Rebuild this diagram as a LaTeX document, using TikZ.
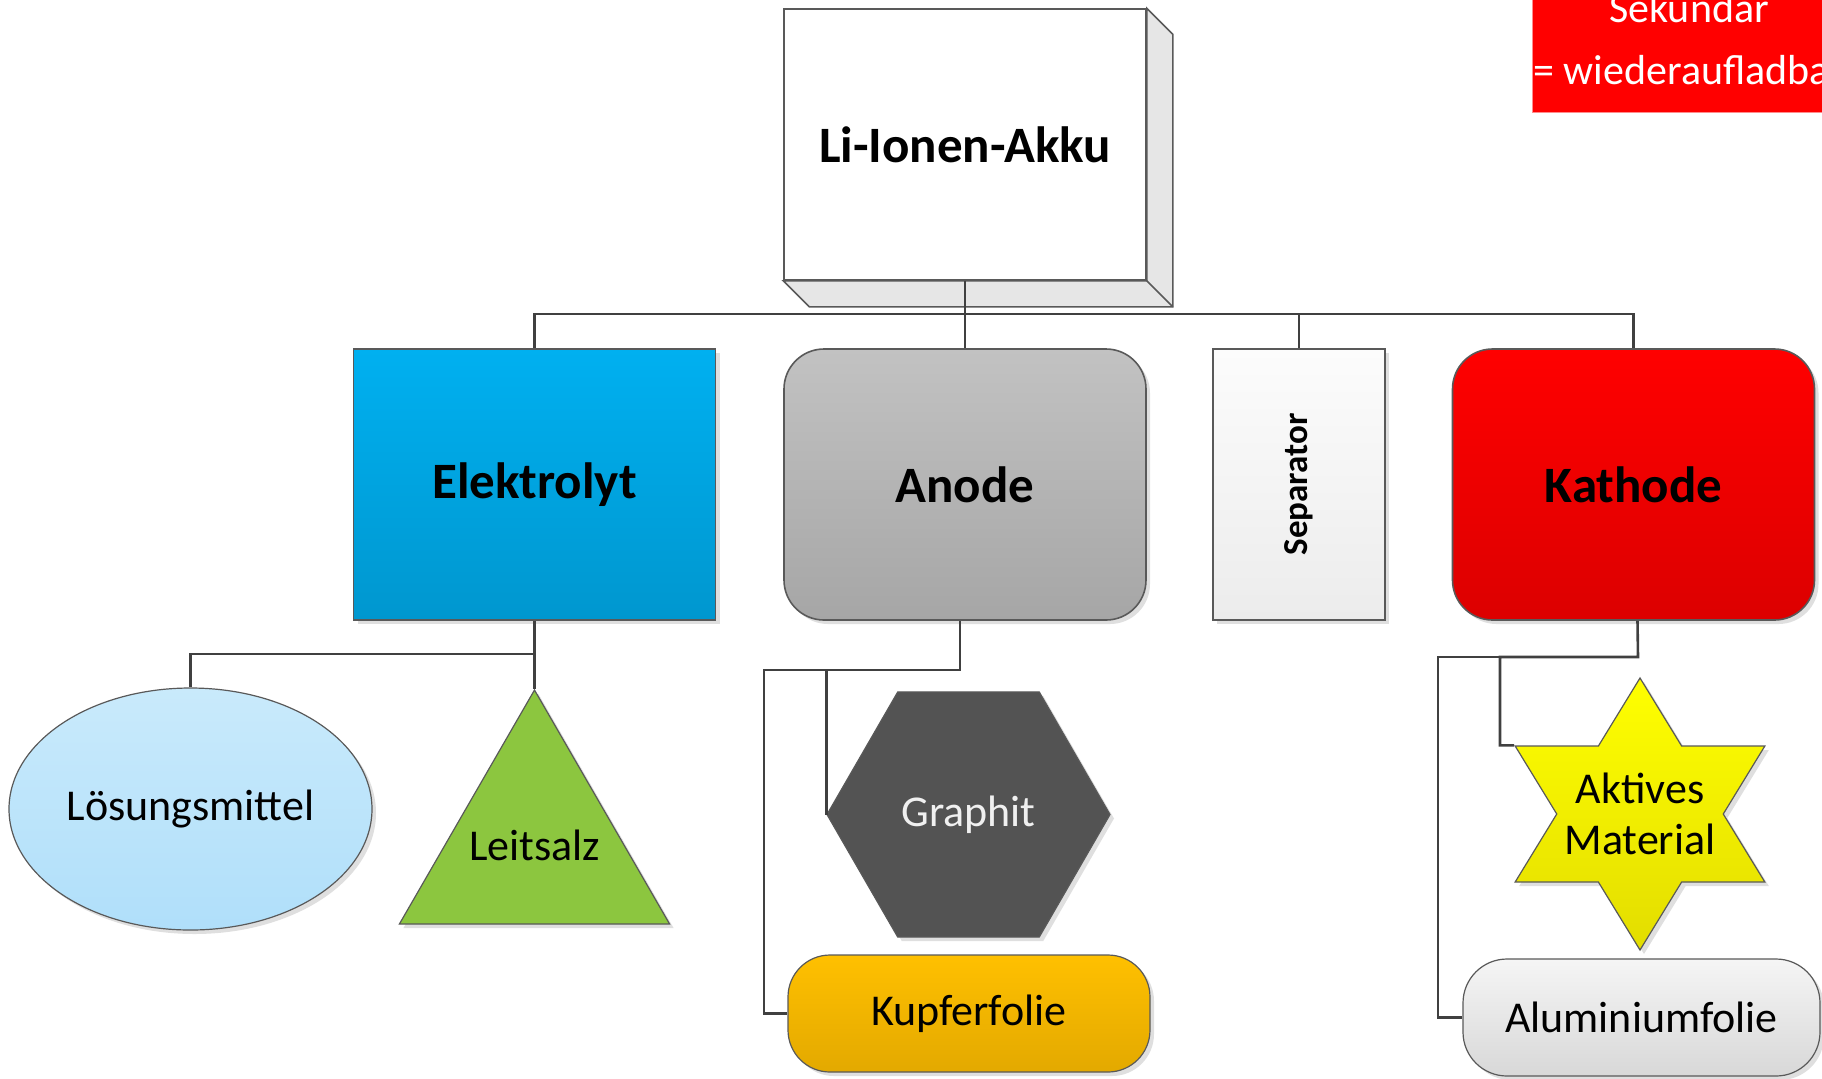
\documentclass[tikz,border=0pt]{standalone}
\usepackage{fontspec}
\setmainfont{Carlito}
\usepackage{graphicx}
\usetikzlibrary{shapes.geometric,shadows}

\definecolor{linegray}{HTML}{404040}
\definecolor{bordergray}{HTML}{595959}
\definecolor{sidegray}{HTML}{E6E6E6}
\definecolor{elekA}{HTML}{00B0F0}
\definecolor{elekB}{HTML}{0097CF}
\definecolor{anodeA}{HTML}{C2C2C2}
\definecolor{anodeB}{HTML}{A6A6A6}
\definecolor{sepA}{HTML}{FCFCFC}
\definecolor{sepB}{HTML}{ECECEC}
\definecolor{kathA}{HTML}{FF0000}
\definecolor{kathB}{HTML}{DC0000}
\definecolor{loesA}{HTML}{C9EAFB}
\definecolor{loesB}{HTML}{B0DFFA}
\definecolor{leitgreen}{HTML}{8CC63F}
\definecolor{graphgray}{HTML}{535353}
\definecolor{kupfA}{HTML}{FFC000}
\definecolor{kupfB}{HTML}{E3A900}
\definecolor{aktA}{HTML}{FFFF00}
\definecolor{aktB}{HTML}{E3DD00}
\definecolor{aluA}{HTML}{F5F5F5}
\definecolor{aluB}{HTML}{D8D8D8}

\tikzset{
  conn/.style={draw=linegray, line width=1.3pt},
  box/.style={draw=bordergray, line width=0.8pt, inner sep=0pt,
    minimum width=181pt, minimum height=135.5pt,
    font=\fontsize{25.5}{30}\selectfont\bfseries},
  part/.style={draw=bordergray, line width=0.6pt, inner sep=0pt,
    font=\fontsize{22}{26}\selectfont},
  shade/.style={drop shadow={shadow xshift=2pt, shadow yshift=-2pt,
    fill=black!25, opacity=0.5}},
}

\begin{document}
\begin{tikzpicture}[x=0.5pt,y=-0.5pt]
    \useasboundingbox (0,0) rectangle (1822,1078);
    \begin{scope}
      \clip (0,0) rectangle (1822,1078);
      \node[fill=red, draw=red!45, minimum width=157pt, minimum height=73pt,
        inner sep=0pt, text=white, align=center,
        font=\fontsize{21}{31}\selectfont] (sekundaer) at (1689,39)
        {Sekundär\\= wiederaufladbar};
    \end{scope}

    % top
    \node[box, fill=white] (akku) at (965,144.5) {Li-Ionen-Akku};
    \filldraw[draw=bordergray, fill=sidegray, line width=0.8pt]
      (akku.north east) -- ++(13pt,-13pt) -- ([shift={(13pt,-13pt)}]akku.south east)
      -- ([shift={(13pt,-13pt)}]akku.south west) -- (akku.south west)
      -- (akku.south east) -- cycle;
    \draw[draw=bordergray, line width=0.8pt] (akku.south east) -- ++(13pt,-13pt);

    % second row
    \node[box, shade, top color=elekA, bottom color=elekB] (elektrolyt) at (534.5,484.5) {Elektrolyt};
    \node[box, shade, rounded corners=20pt, top color=anodeA, bottom color=anodeB] (anode) at (965,484.5) {Anode};
    \node[box, shade, minimum width=86pt, top color=sepA, bottom color=sepB,
      font=\fontsize{17.5}{20}\selectfont\bfseries] (separator) at (1299,484.5) {\rotatebox{90}{Separator}};
    \node[box, shade, rounded corners=20pt, top color=kathA, bottom color=kathB] (kathode) at (1633.5,484.5) {Kathode};

    % third row
    \node[part, shade, ellipse, minimum width=181.5pt, minimum height=121pt,
      top color=loesA, bottom color=loesB] (loesung) at (190.5,809) {Lösungsmittel};
    \node[part, shade, regular polygon, regular polygon sides=3, minimum size=156pt,
      fill=leitgreen] (leitsalz) at (534.5,846) {};
    \node[font=\fontsize{22}{26}\selectfont, inner sep=0pt] (leitsalztext) at (534.5,845) {Leitsalz};
    \node[part, shade, regular polygon, regular polygon sides=6, minimum size=141.5pt,
      fill=graphgray, text=white!94!black] (graphit) at (968.5,814.5) {Graphit};
    \node[part, shade, rounded corners=21pt, minimum width=181pt, minimum height=58.5pt,
      top color=kupfA, bottom color=kupfB] (kupfer) at (969,1013.5) {Kupferfolie};
    \node[part, shade, star, star points=6, star point ratio=1.732, minimum size=136pt,
      xscale=1.06, transform shape, top color=aktA, bottom color=aktB] (aktiv) at (1640,814) {};
    \node[font=\fontsize{22}{25.5}\selectfont, align=center, inner sep=0pt] (aktivtext) at (aktiv) {Aktives\\Material};
    \node[part, shade, rounded corners=22pt, minimum width=178.5pt, minimum height=58.5pt,
      top color=aluA, bottom color=aluB] (alu) at (1641.5,1017.5) {Aluminiumfolie};

    % connectors
    \coordinate (bus) at (0,314);
    \draw[conn] (akku.south) -- (anode.north);
    \draw[conn] (elektrolyt.north) -- (elektrolyt.north |- bus) -- (kathode.north |- bus) -- (kathode.north);
    \draw[conn] (separator.north) -- (separator.north |- bus);

    \coordinate (ebend) at (534.5,654);
    \draw[conn] (elektrolyt.south) -- (leitsalz.north);
    \draw[conn] (ebend) -| (loesung.north);

    \coordinate (abend) at (960,670);
    \coordinate (aleft) at (764,670);
    \draw[conn] ([xshift=-2.5pt]anode.south) -- (abend) -| (graphit.west);
    \draw[conn] (abend) -- (aleft) |- (kupfer.west);

    \coordinate (kbend) at (1638,657);
    \coordinate (kmid) at (1500,657);
    \coordinate (kleft) at (1438,657);
    \draw[conn] ([xshift=2pt]kathode.south) -- (kbend) -- (kmid) |- (aktiv.150);
    \draw[conn] (kmid) -- (kleft) |- (alu.west);
\end{tikzpicture}
\end{document}
